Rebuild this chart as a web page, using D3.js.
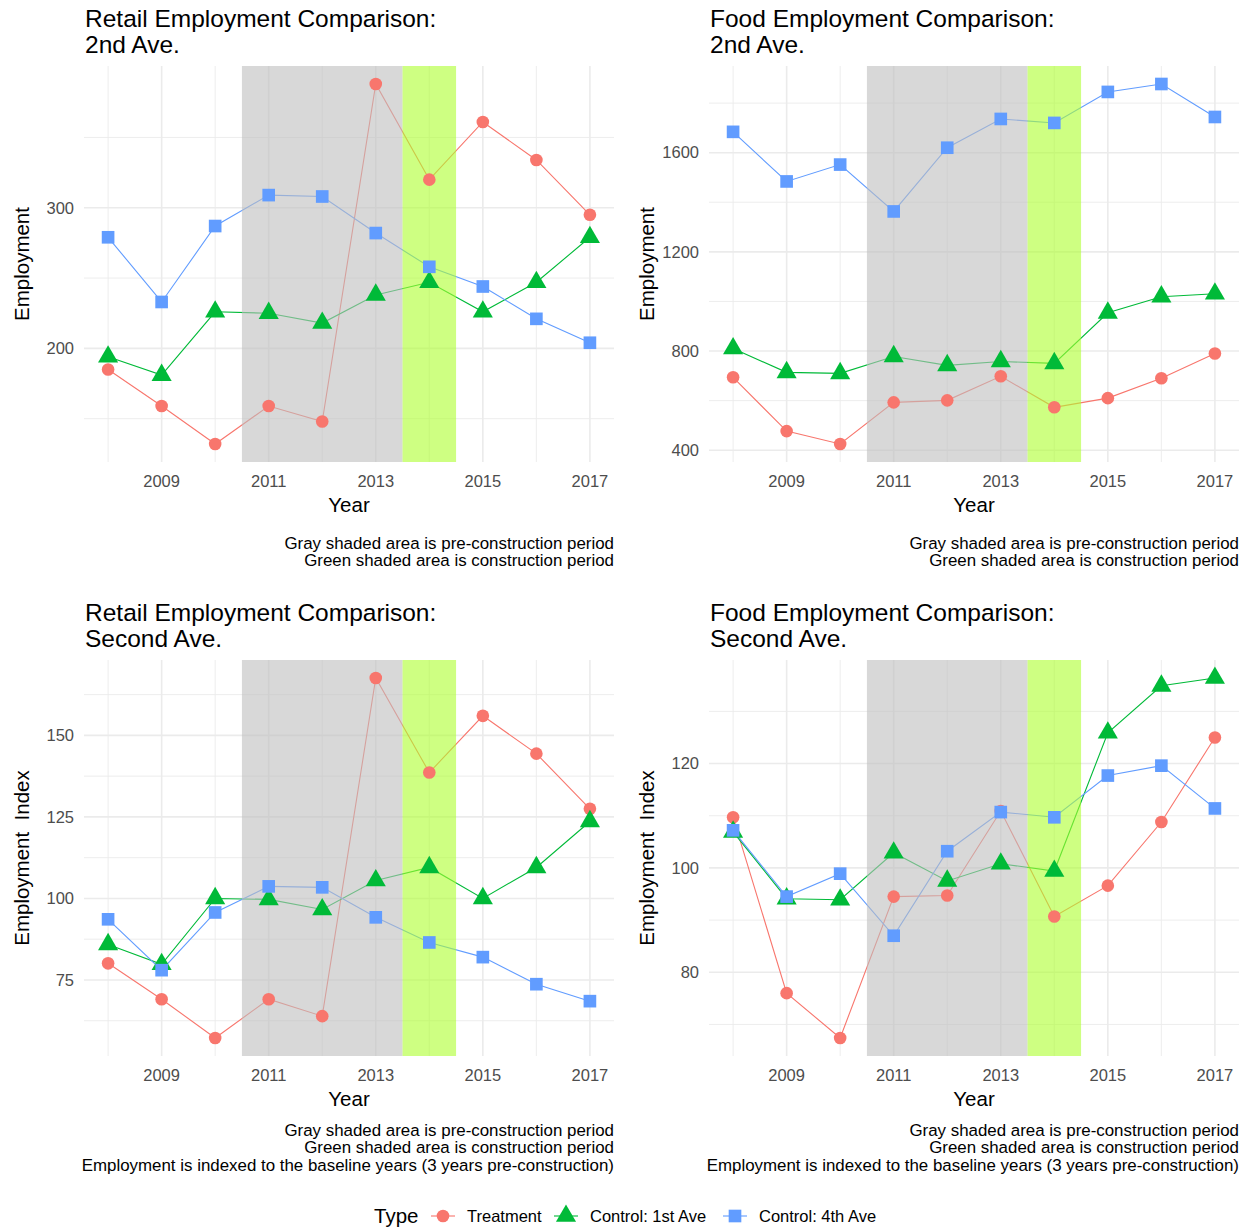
<!DOCTYPE html>
<html>
<head>
<meta charset="utf-8">
<script src="https://cdn.jsdelivr.net/npm/d3@7"></script>
<style>
  body { margin: 0; background: #fff; }
  svg text { font-family: "Liberation Sans", Arial, sans-serif; }
</style>
</head>
<body>
<div id="chart"></div>
<script>
const WIDTH = 1247;
const HEIGHT = 1230;

// --------------- data ---------------
const years = [2008, 2009, 2010, 2011, 2012, 2013, 2014, 2015, 2016, 2017];
const yearTicks = [2009, 2011, 2013, 2015, 2017];
const seriesNames = ["Treatment", "Control: 1st Ave", "Control: 4th Ave"];

// retail, raw employment
const retailTreatment = [185, 159, 132, 159, 148, 388, 320, 361, 334, 295];
const retailFirst = [194, 181, 226, 225, 218, 238, 247, 226, 247, 279];
const retailFourth = [279, 233, 287, 309, 308, 282, 258, 244, 221, 204];

// food, raw employment
const foodTreatment = [694, 477, 425, 593, 601, 698, 573, 610, 690, 790];
const foodFirst = [810, 714, 710, 778, 742, 758, 750, 954, 1019, 1031];
const foodFourth = [1684, 1484, 1552, 1363, 1620, 1736, 1720, 1845, 1877, 1744];

// retail, indexed
const retailIdxTreatment = [80.1, 69.1, 57.2, 69.1, 63.9, 167.6, 138.6, 156.0, 144.4, 127.5];
const retailIdxFirst = [85.9, 79.8, 100.0, 99.7, 96.6, 105.5, 109.5, 100.0, 109.5, 123.6];
const retailIdxFourth = [93.6, 78.0, 95.7, 103.7, 103.4, 94.2, 86.5, 82.0, 73.7, 68.5];

// food, indexed
const foodIdxTreatment = [109.7, 76.0, 67.4, 94.5, 94.7, 110.9, 90.7, 96.6, 108.8, 125.0];
const foodIdxFirst = [106.9, 94.1, 93.9, 102.9, 97.5, 100.8, 99.4, 125.9, 134.9, 136.4];
const foodIdxFourth = [107.2, 94.5, 98.9, 87.0, 103.2, 110.7, 109.7, 117.7, 119.6, 111.4];

const preConstruction = [2010.5, 2013.5];
const construction = [2013.5, 2014.5];

const captionRaw = ["Gray shaded area is pre-construction period",
                    "Green shaded area is construction period"];
const captionIdx = captionRaw.concat(["Employment is indexed to the baseline years (3 years pre-construction)"]);

const COLORS = ["#F8766D", "#00BA38", "#619CFF"];
const SHAPES = [d3.symbolCircle, d3.symbolTriangle, d3.symbolSquare];
const SIZES = [125, 175, 160];

const panels = [
  { title: ["Retail Employment Comparison:", "2nd Ave."], ylab: "Employment",
    series: [retailTreatment, retailFirst, retailFourth],
    major: [200, 300], minor: [150, 250, 350], caption: captionRaw, x0: 0, y0: 0 },
  { title: ["Food Employment Comparison:", "2nd Ave."], ylab: "Employment",
    series: [foodTreatment, foodFirst, foodFourth],
    major: [400, 800, 1200, 1600], minor: [600, 1000, 1400, 1800], caption: captionRaw, x0: 625, y0: 0 },
  { title: ["Retail Employment Comparison:", "Second Ave."], ylab: "Employment  Index",
    series: [retailIdxTreatment, retailIdxFirst, retailIdxFourth],
    major: [75, 100, 125, 150], minor: [62.5, 87.5, 112.5, 137.5, 162.5], caption: captionIdx, x0: 0, y0: 594 },
  { title: ["Food Employment Comparison:", "Second Ave."], ylab: "Employment  Index",
    series: [foodIdxTreatment, foodIdxFirst, foodIdxFourth],
    major: [80, 100, 120], minor: [70, 90, 110, 130], caption: captionIdx, x0: 625, y0: 594 }
];

// --------------- layout ---------------
const PLOT = { left: 84, right: 614, top: 66, bottom: 462 };
const TICK_SIZE = 16.5, CAPTION_SIZE = 16.9, TITLE_SIZE = 24.5, AXIS_TITLE = 20.5;

const svg = d3.select("#chart").append("svg")
  .attr("width", WIDTH)
  .attr("height", HEIGHT);

function drawPanel(p) {
  const g = svg.append("g").attr("transform", `translate(${p.x0},${p.y0})`);

  const x = d3.scaleLinear()
    .domain([2008 - 0.45, 2017 + 0.45])
    .range([PLOT.left, PLOT.right]);

  const all = p.series.flat();
  const [lo, hi] = d3.extent(all);
  const pad = (hi - lo) * 0.05;
  const y = d3.scaleLinear()
    .domain([lo - pad, hi + pad])
    .range([PLOT.bottom, PLOT.top]);

  // grid
  const minorX = years.filter(v => !yearTicks.includes(v));
  g.append("g").selectAll("line").data(p.minor.filter(v => v >= y.domain()[0] && v <= y.domain()[1]))
    .join("line")
    .attr("x1", PLOT.left).attr("x2", PLOT.right)
    .attr("y1", d => y(d)).attr("y2", d => y(d))
    .attr("stroke", "#ebebeb").attr("stroke-width", 0.9);
  g.append("g").selectAll("line").data(minorX)
    .join("line")
    .attr("x1", d => x(d)).attr("x2", d => x(d))
    .attr("y1", PLOT.top).attr("y2", PLOT.bottom)
    .attr("stroke", "#ebebeb").attr("stroke-width", 0.9);
  g.append("g").selectAll("line").data(p.major)
    .join("line")
    .attr("x1", PLOT.left).attr("x2", PLOT.right)
    .attr("y1", d => y(d)).attr("y2", d => y(d))
    .attr("stroke", "#ebebeb").attr("stroke-width", 1.6);
  g.append("g").selectAll("line").data(yearTicks)
    .join("line")
    .attr("x1", d => x(d)).attr("x2", d => x(d))
    .attr("y1", PLOT.top).attr("y2", PLOT.bottom)
    .attr("stroke", "#ebebeb").attr("stroke-width", 1.6);

  // lines
  const line = d3.line().x((d, i) => x(years[i])).y(d => y(d));
  p.series.forEach((s, k) => {
    g.append("path")
      .datum(s)
      .attr("d", line)
      .attr("fill", "none")
      .attr("stroke", COLORS[k])
      .attr("stroke-width", 1.1);
  });

  // shaded periods
  g.append("rect")
    .attr("x", x(preConstruction[0])).attr("width", x(preConstruction[1]) - x(preConstruction[0]))
    .attr("y", PLOT.top).attr("height", PLOT.bottom - PLOT.top)
    .attr("fill", "#bebebe").attr("fill-opacity", 0.6);
  g.append("rect")
    .attr("x", x(construction[0])).attr("width", x(construction[1]) - x(construction[0]))
    .attr("y", PLOT.top).attr("height", PLOT.bottom - PLOT.top)
    .attr("fill", "#adff2f").attr("fill-opacity", 0.6);

  // points
  p.series.forEach((s, k) => {
    g.append("g").selectAll("path")
      .data(s)
      .join("path")
      .attr("transform", (d, i) => `translate(${x(years[i])},${y(d)})`)
      .attr("d", d3.symbol().type(SHAPES[k]).size(SIZES[k]))
      .attr("fill", COLORS[k]);
  });

  // axes labels
  g.append("g").selectAll("text").data(p.major)
    .join("text")
    .attr("x", PLOT.left - 10)
    .attr("y", d => y(d))
    .attr("dy", "0.35em")
    .attr("text-anchor", "end")
    .attr("font-size", TICK_SIZE)
    .attr("fill", "#4d4d4d")
    .text(d => d);
  g.append("g").selectAll("text").data(yearTicks)
    .join("text")
    .attr("x", d => x(d))
    .attr("y", PLOT.bottom + 25)
    .attr("text-anchor", "middle")
    .attr("font-size", TICK_SIZE)
    .attr("fill", "#4d4d4d")
    .text(d => d);

  g.append("text")
    .attr("x", (PLOT.left + PLOT.right) / 2)
    .attr("y", PLOT.bottom + 50)
    .attr("text-anchor", "middle")
    .attr("font-size", AXIS_TITLE)
    .text("Year");
  g.append("text")
    .attr("transform", `translate(29,${(PLOT.top + PLOT.bottom) / 2}) rotate(-90)`)
    .attr("text-anchor", "middle")
    .attr("font-size", AXIS_TITLE)
    .style("white-space", "pre")
    .text(p.ylab);

  // title
  p.title.forEach((t, i) => {
    g.append("text")
      .attr("x", 85)
      .attr("y", 27 + i * 26)
      .attr("font-size", TITLE_SIZE)
      .text(t);
  });

  // caption
  const capTop = p.caption.length > 2 ? 80 : 87;
  p.caption.forEach((t, i) => {
    g.append("text")
      .attr("x", PLOT.right)
      .attr("y", PLOT.bottom + capTop + i * 17.3)
      .attr("text-anchor", "end")
      .attr("font-size", CAPTION_SIZE)
      .text(t);
  });
}

panels.forEach(drawPanel);

// --------------- legend ---------------
const legend = svg.append("g").attr("transform", "translate(0,1216)");
legend.append("text")
  .attr("x", 374).attr("y", 7)
  .attr("font-size", AXIS_TITLE)
  .text("Type");
const keyX = [443, 566, 735];
seriesNames.forEach((name, k) => {
  const kg = legend.append("g").attr("transform", `translate(${keyX[k]},0)`);
  kg.append("line")
    .attr("x1", -12).attr("x2", 12)
    .attr("stroke", COLORS[k]).attr("stroke-width", 1.1);
  kg.append("path")
    .attr("d", d3.symbol().type(SHAPES[k]).size(SIZES[k]))
    .attr("fill", COLORS[k]);
  kg.append("text")
    .attr("x", 24).attr("y", 6)
    .attr("font-size", TICK_SIZE)
    .text(name);
});
</script>
</body>
</html>
